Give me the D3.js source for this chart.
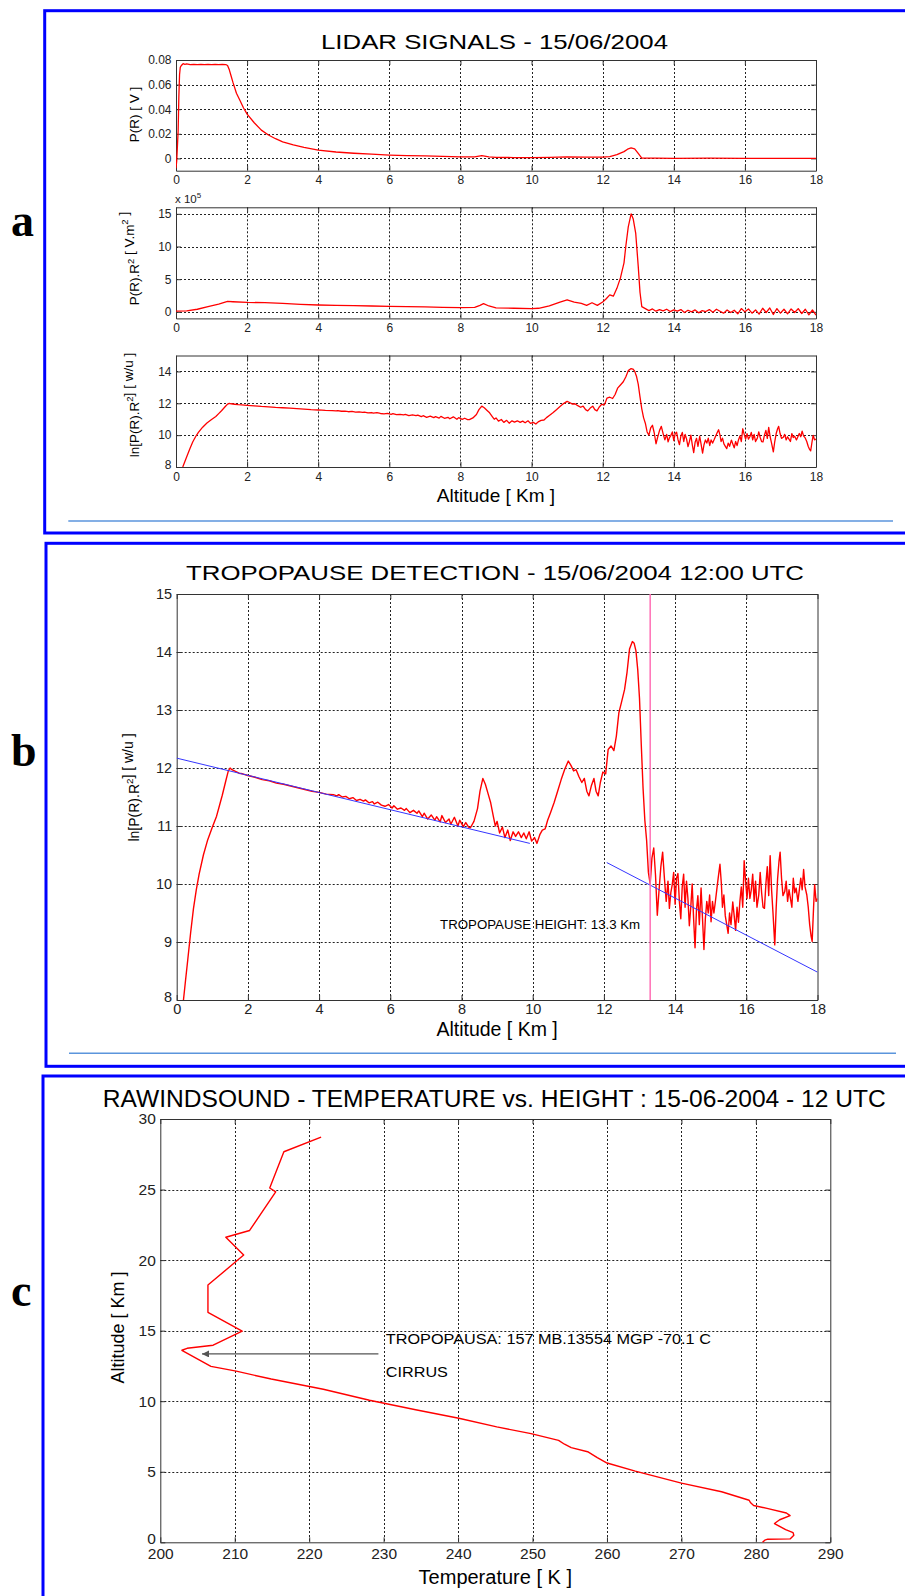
<!DOCTYPE html>
<html>
<head>
<meta charset="utf-8">
<script src="https://cdn.jsdelivr.net/npm/d3@7"></script>
<style>
	body {margin:0; background:#fff;}
	svg {display:block; font-family:"Liberation Sans", Arial, sans-serif;}
	.tick text {fill:#222;}
	.domain {stroke:#333;}
	.tick line {stroke:#333;}
</style>
</head>
<body>
<svg id="fig" width="905" height="1596"></svg>
<script>
"use strict";

// ---------- data ----------
// altitude ticks (km) used by panels a and b
var altTicks = [0,2,4,6,8,10,12,14,16,18];
var pTicks = [0,0.02,0.04,0.06,0.08];
var pr2Ticks = [0,5,10,15];
var lnTicksA = [8,10,12,14];
var lnTicksB = [8,9,10,11,12,13,14,15];
var tempTicks = [200,210,220,230,240,250,260,270,280,290];
var heightTicks = [0,5,10,15,20,25,30];

// P(R) [V]  : [km, volts]
var sigP = [[0,-0.008],[0.02,-0.002],[0.04,0.01],[0.06,0.022],[0.08,0.05],[0.1,0.068],[0.12,0.074],
	[0.15,0.0755],[0.2,0.077],[0.25,0.0765],[0.3,0.0768],[0.4,0.0762],[0.5,0.0765],[0.6,0.0762],
	[0.7,0.0765],[0.8,0.0762],[0.9,0.0765],[1.0,0.0763],[1.1,0.0765],[1.2,0.0762],[1.3,0.0765],
	[1.4,0.0763],[1.45,0.0755],[1.5,0.072],[1.55,0.067],[1.6,0.062],[1.7,0.053],[1.8,0.047],
	[1.9,0.041],[2.0,0.036],[2.2,0.029],[2.4,0.023],[2.6,0.019],[2.8,0.016],[3.0,0.0135],
	[3.3,0.011],[3.6,0.009],[4.0,0.0068],[4.5,0.0052],[5.0,0.0042],[5.5,0.0034],[6.0,0.0027],
	[6.5,0.0023],[7.0,0.002],[7.5,0.0016],[8.0,0.0012],[8.4,0.0012],[8.6,0.0022],[8.8,0.0012],
	[9.0,0.0009],[9.5,0.0007],[10.0,0.0006],[10.5,0.0008],[11.0,0.0012],[11.5,0.001],[12.0,0.0011],
	[12.2,0.0014],[12.4,0.003],[12.6,0.0055],[12.7,0.0075],[12.8,0.0085],[12.9,0.0078],[13.0,0.004],
	[13.1,0.0003],[13.5,0.0002],[14,0.0001],[15,0.0002],[16,0.0],[17,0.0001],[18,0.0]];

// P(R).R^2 [x 1e5 V.m^2] : [km, value]
var sigPR2 = [[0,0.1],[0.3,0.15],[0.6,0.4],[0.9,0.8],[1.2,1.2],[1.45,1.6],[1.6,1.55],[2.0,1.45],
	[2.5,1.4],[3.0,1.3],[3.5,1.15],[4.0,1.05],[4.5,1.0],[5.0,0.95],[5.5,0.9],[6.0,0.85],[6.5,0.8],
	[7.0,0.75],[7.5,0.7],[8.0,0.65],[8.4,0.7],[8.55,1.0],[8.65,1.25],[8.8,0.9],[9.0,0.6],[9.5,0.55],
	[10.0,0.5],[10.2,0.55],[10.5,0.9],[10.8,1.5],[11.0,1.85],[11.2,1.5],[11.4,1.3],[11.55,1.0],
	[11.7,1.4],[11.85,1.0],[12.0,1.5],[12.1,2.0],[12.2,2.6],[12.3,2.4],[12.4,3.6],[12.5,5.2],
	[12.6,7.5],[12.65,10.0],[12.72,13.0],[12.8,15.0],[12.86,14.2],[12.93,12.0],[13.0,7.0],
	[13.05,3.0],[13.1,0.8],[13.2,0.5],[13.3,0.2],[13.4,0.45],[13.5,0.1],[13.6,0.35],[13.7,0.15],
	[13.8,0.4],[13.9,0.05],[14.0,0.3],[14.1,0.1],[14.2,0.35],[14.3,-0.1],[14.4,0.25],[14.5,0.0],
	[14.6,0.3],[14.7,-0.15],[14.8,0.2],[14.9,0.05],[15.0,0.35],[15.1,-0.05],[15.2,0.4],[15.3,0.1],
	[15.4,-0.2],[15.5,0.3],[15.6,-0.1],[15.7,0.25],[15.8,-0.3],[15.9,0.5],[16.0,0.0],[16.1,0.45],
	[16.2,-0.2],[16.3,0.3],[16.4,-0.35],[16.5,0.55],[16.6,-0.1],[16.7,0.6],[16.8,-0.4],[16.9,0.5],
	[17.0,-0.2],[17.1,0.4],[17.2,-0.3],[17.3,0.45],[17.4,-0.1],[17.5,0.5],[17.6,-0.25],[17.7,0.4],
	[17.8,-0.45],[17.9,0.3],[18.0,-0.5]];

// ln[P(R).R^2] [w/u] : [km, value]  (panels a3 and b)
var sigLn = [[0.19,8.0],[0.25,8.35],[0.31,8.69],[0.39,9.15],[0.47,9.57],[0.55,9.9],[0.63,10.17],
	[0.75,10.5],[0.87,10.76],[1.0,10.98],[1.12,11.17],[1.2,11.35],[1.28,11.53],[1.38,11.78],
	[1.45,11.95],[1.5,12.0],[1.55,11.97],[1.65,11.94],[1.75,11.91],[1.85,11.9],[2.0,11.87],
	[2.2,11.84],[2.4,11.8],[2.6,11.78],[2.8,11.74],[3.0,11.72],[3.2,11.69],[3.4,11.66],[3.6,11.63],
	[3.8,11.6],[4.0,11.58],[4.2,11.55],[4.4,11.54],[4.5,11.52],[4.55,11.54],[4.65,11.5],[4.75,11.51],
	[4.85,11.47],[4.95,11.49],[5.05,11.44],[5.15,11.46],[5.25,11.43],[5.3,11.45],[5.4,11.4],
	[5.5,11.42],[5.55,11.38],[5.65,11.41],[5.75,11.36],[5.85,11.34],[5.95,11.37],[6.05,11.31],
	[6.1,11.35],[6.2,11.29],[6.3,11.31],[6.4,11.27],[6.45,11.3],[6.55,11.23],[6.65,11.27],
	[6.75,11.22],[6.8,11.26],[6.9,11.16],[6.95,11.22],[7.05,11.12],[7.15,11.19],[7.25,11.1],
	[7.3,11.16],[7.4,11.07],[7.45,11.18],[7.55,11.06],[7.65,11.12],[7.7,11.03],[7.8,11.15],
	[7.9,11.0],[7.95,11.1],[8.05,10.99],[8.12,11.06],[8.2,10.98],[8.25,10.97],[8.35,11.08],
	[8.45,11.3],[8.52,11.6],[8.6,11.82],
	[8.67,11.72],[8.75,11.55],[8.82,11.4],[8.9,11.15],[8.95,11.0],[9.0,11.08],[9.07,10.88],
	[9.15,10.98],[9.22,10.8],[9.3,10.93],[9.37,10.75],[9.45,10.9],[9.52,10.82],[9.6,10.9],
	[9.68,10.8],[9.75,10.88],[9.82,10.78],[9.9,10.9],[9.97,10.74],[10.05,10.8],[10.12,10.7],
	[10.2,10.85],[10.27,10.93],[10.35,10.95],[10.42,11.1],[10.5,11.23],[10.6,11.4],[10.7,11.6],
	[10.8,11.8],[10.9,11.98],[11.0,12.12],[11.07,12.05],[11.15,11.95],[11.22,11.97],[11.3,11.85],
	[11.38,11.75],[11.45,11.82],[11.52,11.6],[11.58,11.52],[11.65,11.7],[11.72,11.82],[11.78,11.6],
	[11.84,11.52],[11.9,11.75],[11.97,11.93],[12.05,11.9],[12.12,12.32],[12.2,12.38],[12.28,12.3],
	[12.35,12.55],[12.42,12.95],[12.5,13.15],[12.58,13.35],[12.65,13.65],[12.72,14.05],[12.8,14.18],
	[12.85,14.15],[12.9,14.02],[12.95,13.7],[13.0,13.2],[13.05,12.4],[13.1,11.65],[13.15,11.1],
	[13.2,10.75],[13.25,10.2],[13.3,10.0],[13.35,10.45],[13.4,10.62],[13.45,10.15],[13.5,9.46],
	[13.55,9.9],[13.6,10.3],[13.65,10.55],[13.7,10.1],[13.75,9.7],[13.8,10.05],[13.84,9.58],
	[13.88,9.85],[13.92,9.99],[13.96,10.2],[14.0,9.65],[14.04,10.1],[14.08,10.18],[14.12,9.7],
	[14.16,9.4],[14.2,9.95],[14.24,10.17],[14.28,9.6],[14.32,10.05],[14.36,9.75],[14.4,9.28],
	[14.44,9.6],[14.48,10.0],[14.52,9.4],[14.56,8.9],[14.6,9.55],[14.64,9.8],[14.68,9.3],
	[14.73,9.93],[14.77,9.4],[14.81,8.87],[14.85,9.4],[14.89,9.7],[14.93,9.5],[14.97,9.81],
	[15.01,9.35],[15.05,9.7],[15.09,9.5],[15.13,9.69],[15.17,9.9],[15.21,10.1],[15.26,10.34],
	[15.3,10.0],[15.33,9.6],[15.37,9.81],[15.41,9.45],[15.45,9.3],[15.49,9.15],[15.53,9.5],
	[15.57,9.3],[15.62,9.69],[15.66,9.45],[15.7,9.2],[15.74,9.6],[15.78,9.34],[15.82,9.7],
	[15.86,9.95],[15.9,9.6],[15.94,10.4],[15.98,10.05],[16.02,9.75],[16.06,10.1],[16.1,9.75],
	[16.14,9.9],[16.18,10.17],[16.22,9.7],[16.26,10.05],[16.3,9.6],[16.35,9.81],[16.39,10.2],
	[16.43,9.85],[16.47,9.6],[16.51,9.58],[16.55,10.0],[16.59,10.3],[16.63,9.8],[16.67,10.49],
	[16.71,9.9],[16.75,9.5],[16.8,8.95],[16.84,9.6],[16.88,10.1],[16.92,10.4],[16.95,10.55],
	[16.99,10.1],[17.03,9.8],[17.08,9.87],[17.12,10.05],[17.16,9.7],[17.2,9.9],[17.24,9.75],
	[17.28,9.6],[17.32,10.1],[17.36,9.85],[17.4,9.93],[17.45,9.7],[17.49,9.9],[17.53,10.1],
	[17.57,9.9],[17.61,10.25],[17.65,9.95],[17.7,9.81],[17.74,9.6],[17.78,9.3],[17.82,9.1],
	[17.85,9.01],[17.89,9.6],[17.92,9.99],[17.96,9.7],[18.0,9.75]];

// linear fits drawn in blue on panel b
var fitLow = [[0,12.17],[9.92,10.70]];
var fitHigh = [[12.08,10.37],[18,8.48]];
var tropoKm = 13.3;

// rawindsound profile : [temperature K, altitude km]
var tempProfile = [[280.9,0],[281.2,0.15],[281.6,0.22],[284.6,0.24],[285.1,0.5],[285.0,0.68],
	[284.0,0.9],[282.5,1.33],[283.2,1.6],[284.6,1.89],[284.1,2.08],[281.5,2.4],[279.7,2.61],
	[279.3,2.8],[279.1,2.98],[275.4,3.58],[270,4.19],[263.8,5.04],[259.9,5.64],[258.7,6.0],
	[257.4,6.42],[255.2,6.71],[254.3,6.95],[253.5,7.22],[249.8,7.70],[245.2,8.18],[240.1,8.79],
	[234.3,9.39],[228.1,10.07],[221.9,10.85],[214.9,11.57],[210.2,12.13],[206.8,12.47],
	[202.9,13.61],[203.6,13.75],[207.1,13.97],[211.0,14.96],[206.4,16.3],[206.4,18.23],
	[211.2,20.36],[208.8,21.62],[212.0,22.1],[215.5,24.84],[214.7,25.11],[216.6,27.68],[221.6,28.72]];
var tropoArrow = [[229.3,13.35],[205.6,13.35]];

// ---------- drawing ----------
var svg = d3.select("#fig");
var clip_nb = 0;

svg.append("defs").append("marker")
	.attr("id","arrowhead").attr("viewBox","0 0 10 10")
	.attr("refX",10).attr("refY",5)
	.attr("markerWidth",8).attr("markerHeight",7)
	.attr("markerUnits","userSpaceOnUse")
	.attr("orient","auto")
	.append("path").attr("d","M0,0 L10,5 L0,10 z").attr("fill","#555");

// blue frames round the three figures
function frame(x, y, w, h, sep){
	svg.append("rect").attr("x",x).attr("y",y).attr("width",w).attr("height",h)
		.attr("fill","none").attr("stroke","#0000ff").attr("stroke-width",3);
	if (sep){
		svg.append("line").attr("x1",sep[0]).attr("x2",sep[1]).attr("y1",sep[2]).attr("y2",sep[2])
			.attr("stroke","#5b95dc").attr("stroke-width",1.5);
	}
}
frame(44.7, 10.7, 900, 522.3, [68.3, 893, 521]);
frame(46, 543.3, 900, 523, [69, 896, 1053.3]);
frame(43, 1076, 900, 600, null);

function panelLetter(txt, x, y){
	svg.append("text").attr("x",x).attr("y",y).text(txt)
		.style("font-family","'Liberation Serif','Times New Roman',serif")
		.style("font-weight","bold").style("font-size","46px");
}
panelLetter("a", 11, 236);
panelLetter("b", 11, 766);
panelLetter("c", 11, 1306);

function drawPanel(cfg){
	var x = d3.scaleLinear().domain(cfg.xDomain).range([cfg.left, cfg.right]);
	var y = d3.scaleLinear().domain(cfg.yDomain).range([cfg.bottom, cfg.top]);
	var g = svg.append("g");
	var fs = cfg.fontSize;

	g.append("rect").attr("x",cfg.left).attr("y",cfg.top)
		.attr("width",cfg.right-cfg.left).attr("height",cfg.bottom-cfg.top).attr("fill","#fff");

	// dotted grid
	var xin = cfg.xTicks.filter(function(d){return d>cfg.xDomain[0] && d<cfg.xDomain[1];});
	var yin = cfg.yTicks.filter(function(d){return d>cfg.yDomain[0] && d<cfg.yDomain[1];});
	g.selectAll(".vgrid").data(xin).enter().append("line").attr("class","vgrid")
		.attr("x1",function(d){return Math.round(x(d))+0.5;}).attr("x2",function(d){return Math.round(x(d))+0.5;})
		.attr("y1",cfg.top).attr("y2",cfg.bottom)
		.attr("stroke","#222").attr("stroke-dasharray","2,2").attr("stroke-width",1);
	g.selectAll(".hgrid").data(yin).enter().append("line").attr("class","hgrid")
		.attr("y1",function(d){return Math.round(y(d))+0.5;}).attr("y2",function(d){return Math.round(y(d))+0.5;})
		.attr("x1",cfg.left).attr("x2",cfg.right)
		.attr("stroke","#222").attr("stroke-dasharray","2,2").attr("stroke-width",1);

	// axes, ticks inward on all four sides
	g.append("g").attr("transform","translate(0,"+cfg.bottom+")")
		.call(d3.axisBottom(x).tickValues(cfg.xTicks).tickSizeInner(-5).tickSizeOuter(0)
			.tickPadding(cfg.xPad).tickFormat(cfg.xFormat || String));
	var left = g.append("g").attr("transform","translate("+cfg.left+",0)")
		.call(d3.axisLeft(y).tickValues(cfg.yTicks).tickSizeInner(-5).tickSizeOuter(0)
			.tickPadding(4.5).tickFormat(cfg.yFormat || String));
	g.append("g").attr("transform","translate(0,"+cfg.top+")")
		.call(d3.axisTop(x).tickValues(cfg.xTicks).tickSizeInner(-5).tickSizeOuter(0).tickFormat(""));
	g.append("g").attr("transform","translate("+cfg.right+",0)")
		.call(d3.axisRight(y).tickValues(cfg.yTicks).tickSizeInner(-5).tickSizeOuter(0).tickFormat(""));
	g.selectAll(".tick text").style("font-size",fs+"px").attr("font-family",null);
	// the lowest y label sits a little above the corner, as in the original
	left.selectAll(".tick text").filter(function(d){return d===cfg.yDomain[0];}).attr("dy","0.1em");

	// clip for the curves
	clip_nb += 1;
	svg.select("defs").append("clipPath").attr("id","clip"+clip_nb)
		.append("rect").attr("x",cfg.left).attr("y",cfg.top-1)
		.attr("width",cfg.right-cfg.left).attr("height",cfg.bottom-cfg.top+2);
	var plot = g.append("g").attr("clip-path","url(#clip"+clip_nb+")");

	return {x:x, y:y, g:g, plot:plot};
}

function redLine(p, data, w){
	p.plot.append("path").datum(data)
		.attr("d", d3.line().x(function(d){return p.x(d[0]);}).y(function(d){return p.y(d[1]);}))
		.attr("fill","none").attr("stroke","#ff0000").attr("stroke-width",w || 1.3)
		.attr("stroke-linejoin","round");
}

function yLabel(parts, x, y, fs){
	var t = svg.append("text").attr("transform","translate("+x+","+y+") rotate(-90)")
		.attr("text-anchor","middle").style("font-size",fs+"px");
	parts.forEach(function(p){
		if (p.sup){
			t.append("tspan").attr("dy",-fs*0.4).style("font-size",(fs*0.7)+"px").text(p.sup);
			t.append("tspan").attr("dy",fs*0.4).text("");
		} else {
			t.append("tspan").text(p.t);
		}
	});
	return t;
}

function centerText(txt, x, y, fs, len){
	var t = svg.append("text").attr("x",x).attr("y",y).text(txt).style("font-size",fs+"px");
	if (len){ t.attr("textLength",len).attr("lengthAdjust","spacingAndGlyphs"); }
	else { t.attr("text-anchor","middle"); }
	return t;
}

// ===== panel a =====
centerText("LIDAR SIGNALS - 15/06/2004", 321, 49, 21, 347);

var a1 = drawPanel({left:176, right:816, top:60, bottom:170.7,
	xDomain:[0,18], yDomain:[-0.01,0.08], xTicks:altTicks, yTicks:pTicks,
	fontSize:12, xPad:5, yFormat:function(d){return d===0?"0":d3.format(".2f")(d);}});
redLine(a1, sigP);
yLabel([{t:"P(R) [ V ]"}], 139, 114.5, 13.5);

var a2 = drawPanel({left:176, right:816, top:207.3, bottom:318.4,
	xDomain:[0,18], yDomain:[-1,16], xTicks:altTicks, yTicks:pr2Ticks,
	fontSize:12, xPad:5});
redLine(a2, sigPR2);
yLabel([{t:"P(R).R"},{sup:"2"},{t:" [ V.m"},{sup:"2"},{t:" ]"}], 139, 258.5, 13.5);
var xten = svg.append("text").attr("x",175).attr("y",202.5).style("font-size","11.5px").style("fill","#222");
xten.append("tspan").text("x 10");
xten.append("tspan").attr("dy",-5).style("font-size","8px").text("5");

var a3 = drawPanel({left:176, right:816, top:355.5, bottom:467,
	xDomain:[0,18], yDomain:[8,15], xTicks:altTicks, yTicks:lnTicksA,
	fontSize:12, xPad:5});
redLine(a3, sigLn);
yLabel([{t:"ln[P(R).R"},{sup:"2"},{t:"] [ w/u ]"}], 138.5, 405, 13.5);
centerText("Altitude [ Km ]", a3.x(9), 502, 19);

// ===== panel b =====
centerText("TROPOPAUSE DETECTION - 15/06/2004 12:00 UTC", 186, 580, 21, 618);

var pb = drawPanel({left:176.7, right:817.5, top:594, bottom:1000,
	xDomain:[0,18], yDomain:[8,15], xTicks:altTicks, yTicks:lnTicksB,
	fontSize:14.5, xPad:4.2});
redLine(pb, sigLn, 1.4);
[fitLow, fitHigh].forEach(function(f){
	pb.plot.append("path").datum(f)
		.attr("d", d3.line().x(function(d){return pb.x(d[0]);}).y(function(d){return pb.y(d[1]);}))
		.attr("stroke","#3535ff").attr("stroke-width",1).attr("fill","none");
});
pb.plot.append("line").attr("x1",pb.x(tropoKm)).attr("x2",pb.x(tropoKm))
	.attr("y1",pb.y(15)).attr("y2",pb.y(8))
	.attr("stroke","#ff6fb5").attr("stroke-width",1.5);
svg.append("text").attr("x",pb.x(7.4)).attr("y",pb.y(9.23))
	.attr("textLength",200).attr("lengthAdjust","spacingAndGlyphs")
	.style("font-size","12.5px").text("TROPOPAUSE HEIGHT: 13.3 Km");
yLabel([{t:"ln[P(R).R"},{sup:"2"},{t:"] [ w/u ]"}], 138.5, 787.5, 14);
centerText("Altitude [ Km ]", pb.x(9), 1036, 19.5);

// ===== panel c =====
centerText("RAWINDSOUND - TEMPERATURE vs. HEIGHT : 15-06-2004 - 12 UTC", 102.8, 1107.3, 23, 783);

var pc = drawPanel({left:160.3, right:830.3, top:1119, bottom:1542.3,
	xDomain:[200,290], yDomain:[0,30], xTicks:tempTicks, yTicks:heightTicks,
	fontSize:15.5, xPad:5.5});
redLine(pc, tempProfile, 1.4);
svg.append("path").datum(tropoArrow)
	.attr("d", d3.line().x(function(d){return pc.x(d[0]);}).y(function(d){return pc.y(d[1]);}))
	.attr("stroke","#555").attr("stroke-width",1.2).attr("fill","none")
	.attr("marker-end","url(#arrowhead)");
svg.append("text").attr("x",pc.x(230.3)).attr("y",1344)
	.attr("textLength",325).attr("lengthAdjust","spacingAndGlyphs")
	.style("font-size","15px").text("TROPOPAUSA: 157 MB.13554 MGP -70.1 C");
svg.append("text").attr("x",pc.x(230.3)).attr("y",1376.5)
	.attr("textLength",62).attr("lengthAdjust","spacingAndGlyphs")
	.style("font-size","15px").text("CIRRUS");
yLabel([{t:"Altitude [ Km ]"}], 123.5, 1327.5, 18);
centerText("Temperature [ K ]", pc.x(245), 1584, 20);
</script>
</body>
</html>
